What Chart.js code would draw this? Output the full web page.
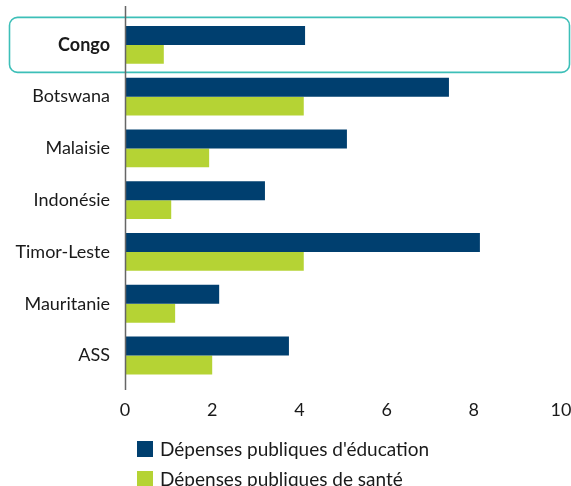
<!DOCTYPE html>
<html>
<head>
<meta charset="utf-8">
<script src="https://cdn.jsdelivr.net/npm/chart.js@4"></script>
<style>
html,body{margin:0;padding:0;background:#fff;}
#wrap{width:571px;height:486px;position:relative;}
</style>
</head>
<body>
<div id="wrap"><canvas id="c" width="571" height="486"></canvas></div>
<script>
const categories = ["Congo", "Botswana", "Malaisie", "Indonésie", "Timor-Leste", "Mauritanie", "ASS"];
const educationValues = [4.13, 7.43, 5.09, 3.21, 8.14, 2.16, 3.76];
const healthValues = [0.89, 4.10, 1.93, 1.06, 4.10, 1.15, 2.00];
const seriesLabels = ["Dépenses publiques d'éducation", "Dépenses publiques de santé"];
const seriesColors = ["#003f6f", "#b5d334"];
const xTicks = [0, 2, 4, 6, 8, 10];

const FONT = "Lato, 'Open Sans', sans-serif";
const TEXT = "#1a1a1a";

const decor = {
  id: 'decor',
  beforeDatasetsDraw(chart) {
    const {ctx, scales: {x, y}} = chart;
    const cy = y.getPixelForValue(0);
    ctx.save();
    ctx.strokeStyle = "#3dbfb8";
    ctx.lineWidth = 1.6;
    ctx.beginPath();
    ctx.roundRect(9.5, cy - 27.5, 560, 55, 8);
    ctx.stroke();
    ctx.restore();
  },
  afterDatasetsDraw(chart) {
    const {ctx, scales: {x}} = chart;
    const x0 = Math.round(x.getPixelForValue(0)) + 0.5;
    ctx.save();
    ctx.strokeStyle = "#666";
    ctx.lineWidth = 1.5;
    ctx.beginPath();
    ctx.moveTo(x0, 6);
    ctx.lineTo(x0, 390);
    ctx.stroke();
    ctx.restore();
  },
  afterDraw(chart) {
    const {ctx} = chart;
    ctx.save();
    ctx.font = "19px " + FONT;
    ctx.textBaseline = "middle";
    chart.data.datasets.forEach((ds, i) => {
      const yy = 449 + i * 30;
      ctx.fillStyle = ds.backgroundColor;
      ctx.fillRect(137, yy - 8, 16, 16);
      ctx.fillStyle = TEXT;
      ctx.fillText(ds.label, 160, yy + 1);
    });
    ctx.restore();
  }
};

new Chart(document.getElementById('c'), {
  type: 'bar',
  data: {
    labels: categories,
    datasets: [
      {label: seriesLabels[0], data: educationValues, backgroundColor: seriesColors[0]},
      {label: seriesLabels[1], data: healthValues, backgroundColor: seriesColors[1]}
    ]
  },
  options: {
    indexAxis: 'y',
    responsive: false,
    animation: false,
    devicePixelRatio: 1,
    layout: {padding: {left: 0, right: 0, top: 19, bottom: 47}},
    datasets: {bar: {categoryPercentage: 0.73, barPercentage: 1.0}},
    plugins: {legend: {display: false}, tooltip: {enabled: false}},
    scales: {
      x: {
        min: 0, max: 10,
        afterBuildTicks(scale) { scale.ticks = xTicks.map(v => ({value: v})); },
        afterFit(scale) { scale.paddingRight = 10; },
        grid: {display: false, drawTicks: false},
        border: {display: false},
        ticks: {padding: 18, color: TEXT, font: {family: FONT, size: 18}}
      },
      y: {
        grid: {display: false, drawTicks: false},
        border: {display: false},
        afterFit(scale) { scale.width = 125; scale.paddingTop = 0; scale.paddingBottom = 0; },
        ticks: {
          padding: 15, color: TEXT,
          font: (c) => ({family: FONT, size: 18, weight: c.index === 0 ? 'bold' : 'normal'})
        }
      }
    }
  },
  plugins: [decor]
});
</script>
</body>
</html>
